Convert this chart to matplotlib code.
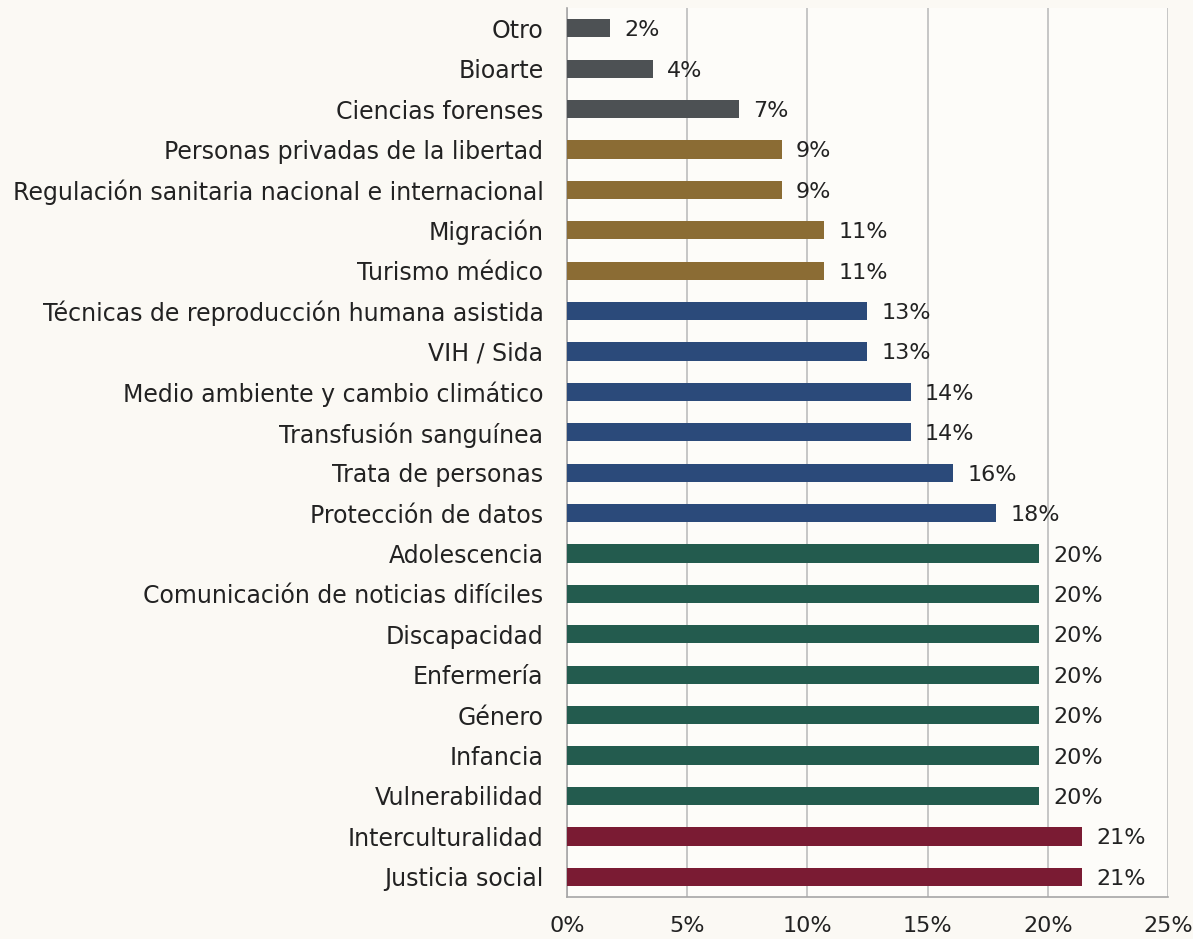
import matplotlib
matplotlib.use("Agg")
from matplotlib import pyplot as plt
from matplotlib.ticker import FuncFormatter

# top to bottom, as in the chart
temas = [
    "Otro", "Bioarte", "Ciencias forenses", "Personas privadas de la libertad",
    "Regulación sanitaria nacional e internacional", "Migración", "Turismo médico",
    "Técnicas de reproducción humana asistida", "VIH / Sida",
    "Medio ambiente y cambio climático", "Transfusión sanguínea", "Trata de personas",
    "Protección de datos", "Adolescencia", "Comunicación de noticias difíciles",
    "Discapacidad", "Enfermería", "Género", "Infancia", "Vulnerabilidad",
    "Interculturalidad", "Justicia social",
]
porcentajes = [1.79, 3.57, 7.14, 8.93, 8.93, 10.71, 10.71, 12.5, 12.5, 14.29, 14.29,
               16.07, 17.86, 19.64, 19.64, 19.64, 19.64, 19.64, 19.64, 19.64, 21.43, 21.43]
grupos = ["gris"] * 3 + ["oro"] * 4 + ["azul"] * 6 + ["verde"] * 7 + ["guinda"] * 2

colores = {
    "gris": "#4d5154",
    "oro": "#8b6c34",
    "azul": "#2b4a7a",
    "verde": "#235b4e",
    "guinda": "#7a1b33",
}

plt.rcParams['font.family'] = ['DejaVu Sans']

fig = plt.figure(figsize=(11.93, 9.39), dpi=100)
fig.patch.set_facecolor("#fbf9f4")
ax = fig.add_axes([0.4753, 0.0447, 0.5037, 0.9468])
ax.set_facecolor("#fdfcf9")

y = list(range(len(temas)))
ax.barh(y, porcentajes, height=0.45, color=[colores[g] for g in grupos], zorder=3)

for yi, v in zip(y, porcentajes):
    ax.text(v + 0.6, yi + 0.05, f"{int(v + 0.5)}%", va="center", ha="left",
            fontsize=16, color="#222222", zorder=4)

ax.set_xlim(0, 25)
ax.set_ylim(len(temas) - 0.5, -0.5)
ax.set_xticks([0, 5, 10, 15, 20, 25])
ax.xaxis.set_major_formatter(FuncFormatter(lambda v, p: f"{v:.0f}%"))
ax.set_yticks(y)
ax.set_yticklabels(temas)
ax.tick_params(axis="y", length=0, pad=17, labelsize=17, labelcolor="#222222")
ax.tick_params(axis="x", length=0, pad=14, labelsize=16, labelcolor="#222222")

ax.grid(axis="x", color="#bdbdbd", linewidth=1.2, zorder=0)
for s in ["top", "right"]:
    ax.spines[s].set_visible(False)
for s in ["left", "bottom"]:
    ax.spines[s].set_color("#a6a6a6")
    ax.spines[s].set_linewidth(1.2)

fig.savefig("out.png", dpi=100, facecolor=fig.get_facecolor())
